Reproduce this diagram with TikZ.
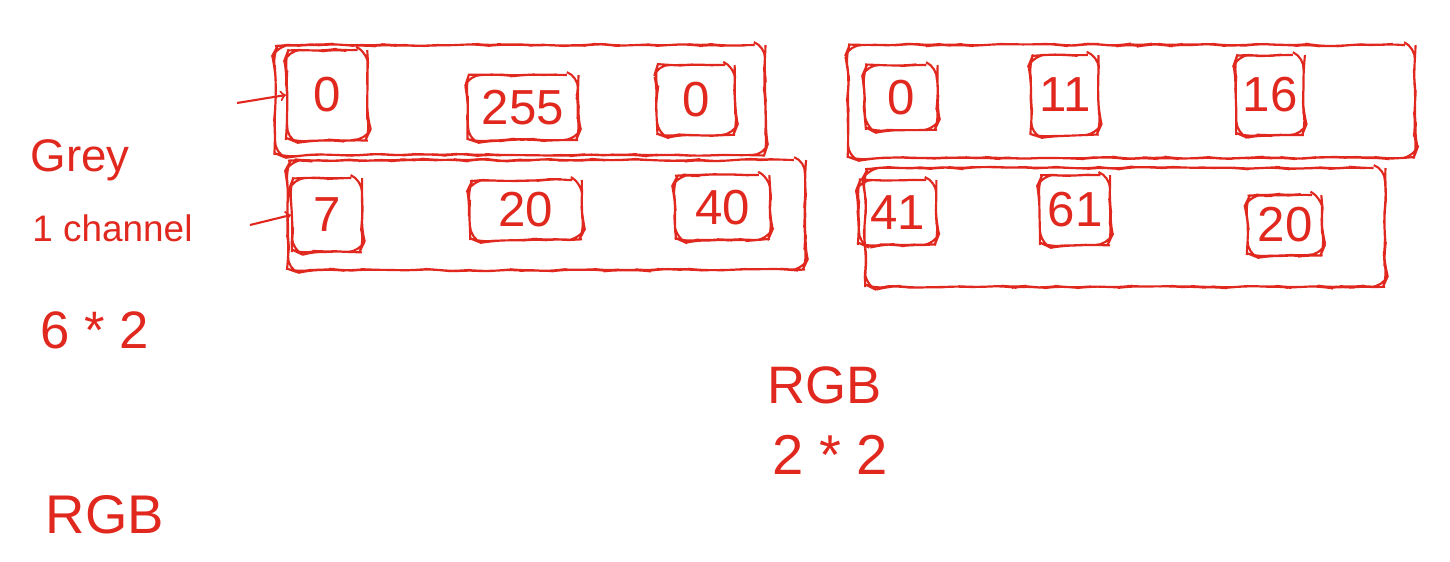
\documentclass[tikz,border=0pt]{standalone}
\usepackage{xcolor}
\usepackage{fontspec}
\setmainfont{Liberation Sans}
\usepackage{tikz}
\usetikzlibrary{arrows, decorations.pathmorphing}

\definecolor{ink}{RGB}{225,40,30}

\tikzset{
    sketch/.style={draw=ink, line width=1.2pt, rounded corners=7pt,
        decorate, decoration={random steps, segment length=6pt, amplitude=0.6pt}},
    rowbox/.style={sketch, inner sep=0pt},
    cell/.style={sketch, text=ink, inner sep=0pt, font=\fontsize{28}{30}\selectfont},
    note/.style={text=ink, inner sep=0pt},
}

\begin{document}
\begin{tikzpicture}[x=1cm, y=1cm]
        \useasboundingbox (0,0) rectangle (29,-11.22);

        % Rows
        \node[rowbox, minimum width=9.8cm, minimum height=2.2cm] (rowLa) at (10.4,-2.0) {};
        \node[rowbox, minimum width=10.34cm, minimum height=2.2cm] (rowLb) at (10.93,-4.3) {};
        \node[rowbox, minimum width=11.34cm, minimum height=2.26cm] (rowRa) at (22.63,-2.03) {};
        \node[rowbox, minimum width=10.4cm, minimum height=2.38cm] (rowRb) at (22.5,-4.55) {};

        % Grey pixels
        \node[cell, minimum width=1.62cm, minimum height=1.8cm] (greyA) at (6.55,-1.9) {0};
        \node[cell, minimum width=2.2cm, minimum height=1.3cm] (greyB) at (10.46,-2.15) {255};
        \node[cell, minimum width=1.56cm, minimum height=1.4cm] (greyC) at (13.92,-2.0) {0};
        \node[cell, minimum width=1.4cm, minimum height=1.48cm] (greyD) at (6.54,-4.3) {7};
        \node[cell, minimum width=2.24cm, minimum height=1.2cm] (greyE) at (10.52,-4.2) {20};
        \node[cell, minimum width=1.9cm, minimum height=1.3cm] (greyF) at (14.45,-4.15) {40};

        % RGB pixels
        \node[cell, minimum width=1.44cm, minimum height=1.3cm] (rgbA) at (18.02,-1.95) {0};
        \node[cell, minimum width=1.35cm, minimum height=1.6cm] (rgbB) at (21.3,-1.9) {11};
        \node[cell, minimum width=1.35cm, minimum height=1.6cm] (rgbC) at (25.4,-1.9) {16};
        \node[cell, minimum width=1.55cm, minimum height=1.3cm] (rgbD) at (17.95,-4.25) {41};
        \node[cell, minimum width=1.4cm, minimum height=1.4cm] (rgbE) at (21.5,-4.2) {61};
        \node[cell, minimum width=1.5cm, minimum height=1.2cm] (rgbF) at (25.7,-4.5) {20};

        % Labels
        \node[note, font=\fontsize{26}{28}\selectfont] (grey) at (1.6,-3.2) {Grey};
        \node[note, font=\fontsize{21}{23}\selectfont] (channel) at (2.25,-4.56) {1 channel};
        \node[note, font=\fontsize{30}{32}\selectfont] (sizeL) at (1.9,-6.6) {6 * 2};
        \node[note, font=\fontsize{31}{33}\selectfont] (rgbL) at (2.1,-10.3) {RGB};
        \node[note, font=\fontsize{30}{32}\selectfont] (rgbR) at (16.5,-7.7) {RGB};
        \node[note, font=\fontsize{32}{34}\selectfont] (sizeR) at (16.6,-9.1) {2 * 2};

        % Arrows
        \coordinate (tailA) at (4.74,-2.06);
        \coordinate (tailB) at (5.0,-4.5);
        \draw[->, draw=ink, line width=1.2pt] (tailA) -- (greyA.west);
        \draw[->, draw=ink, line width=1.2pt] (tailB) -- (greyD.west);

\end{tikzpicture}
\end{document}
